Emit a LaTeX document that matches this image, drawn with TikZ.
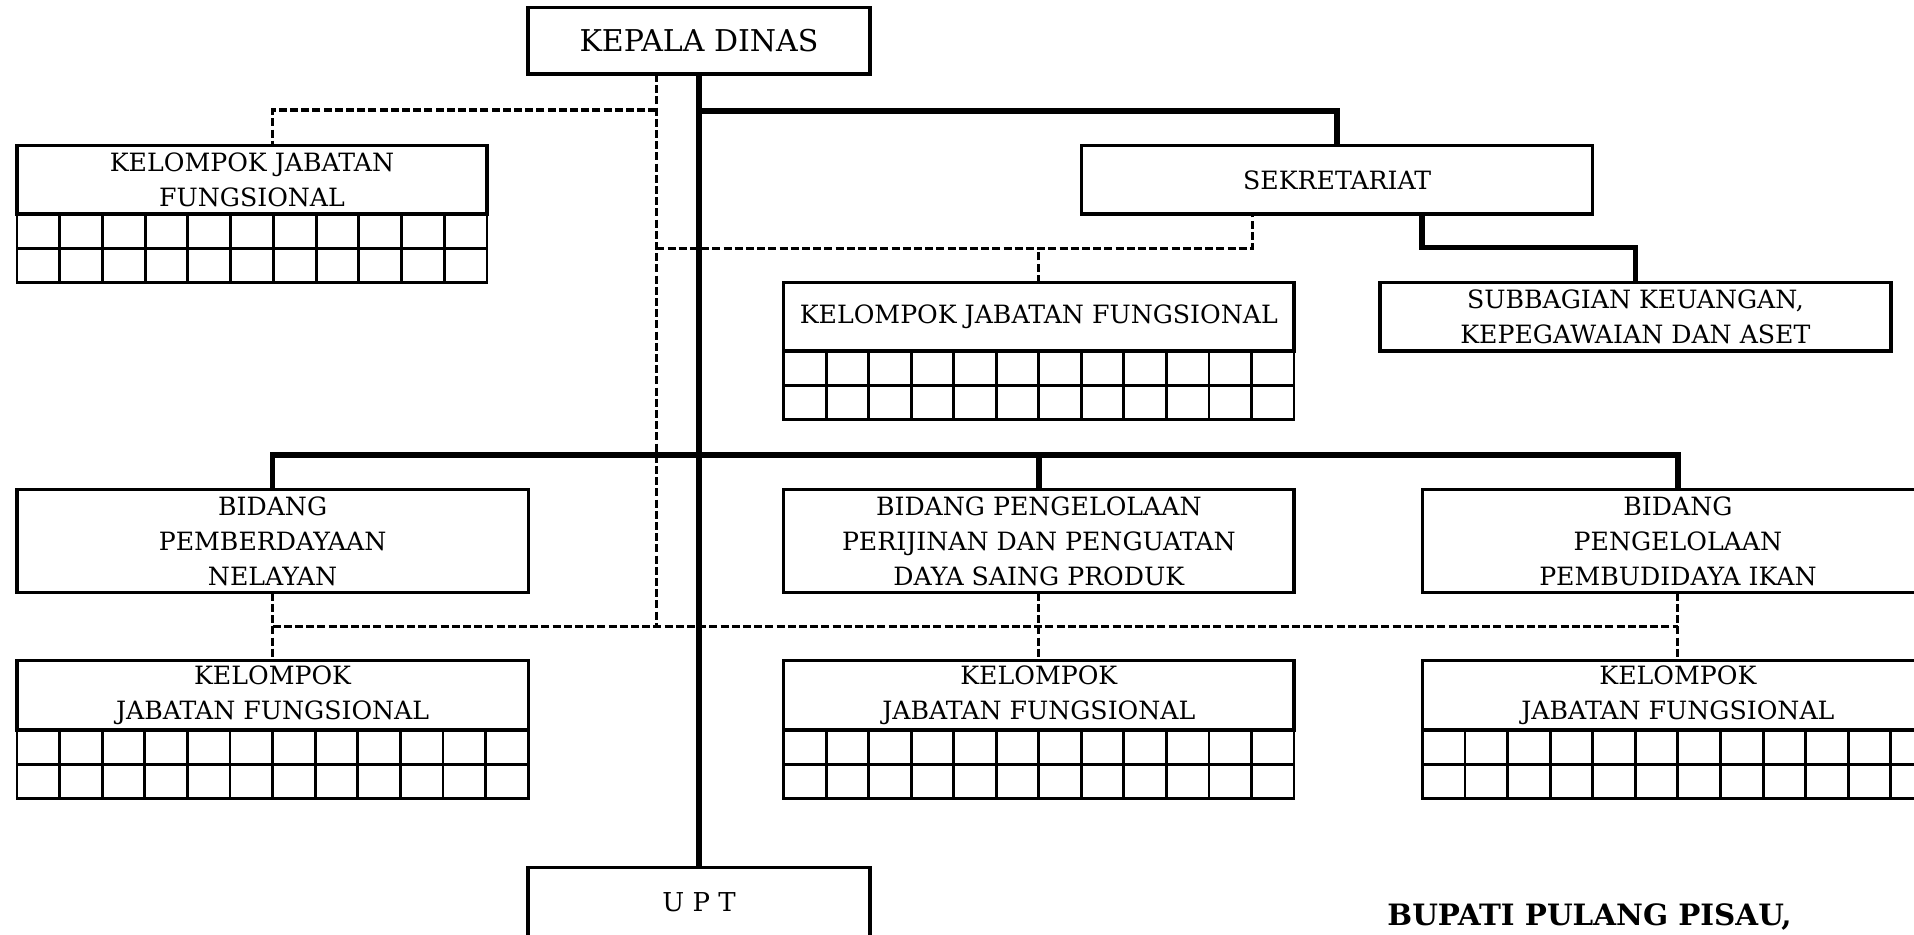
\documentclass[tikz,border=0pt]{standalone}
\usepackage{fontspec}
\setmainfont{DejaVu Serif}
\usetikzlibrary{calc}
\newcommand\boxfont{\fontsize{12.6}{17.5}\selectfont}
\newcommand\kgrid[3]{%
  \draw[gridl] (#1.south west) -- ++(0,68.6) -- ($(#1.south east)+(0,68.6)$) -- (#1.south east);
  \draw[gridl] ($(#1.south west)+(0,34.3)$) -- ($(#1.south east)+(0,34.3)$);
  \foreach \i in {1,...,#2} {\draw[gridl] ($(#1.south west)!\i/#3!(#1.south east)$) -- ++(0,68.6);}%
}
\begin{document}
\begin{tikzpicture}[x=0.5pt,y=-0.5pt,
  box/.style={draw, line width=1.7pt, inner sep=0pt, outer sep=0pt, align=center, font=\boxfont},
  gridl/.style={line width=1.45pt},
  conn/.style={line width=2.8pt},
  dconn/.style={line width=1.55pt, dash pattern=on 4pt off 1.6pt}]
\useasboundingbox (0,0) rectangle (1914,934);
\clip (0,0) rectangle (1914,934);

% nodes
\node[box, minimum width=171pt, minimum height=33.35pt, font=\fontsize{15}{17}\selectfont] (kepala) at (699,40.7) {KEPALA DINAS};
\node[box, minimum width=235pt, minimum height=34.15pt] (kjf0) at (252,179.85) {KELOMPOK JABATAN\\FUNGSIONAL};
\node[box, minimum width=255.5pt, minimum height=34.15pt] (sek) at (1337.2,179.85) {SEKRETARIAT};
\node[box, minimum width=255.2pt, minimum height=34.15pt] (kjf1) at (1038.8,316.85) {KELOMPOK JABATAN FUNGSIONAL};
\node[box, minimum width=255.5pt, minimum height=34.15pt] (sub) at (1635.4,316.85) {SUBBAGIAN KEUANGAN,\\KEPEGAWAIAN DAN ASET};
\node[box, minimum width=255.6pt, minimum height=51.7pt] (bid1) at (272.6,541) {BIDANG\\PEMBERDAYAAN\\NELAYAN};
\node[box, minimum width=255.2pt, minimum height=51.7pt] (bid2) at (1038.8,541) {BIDANG PENGELOLAAN\\PERIJINAN DAN PENGUATAN\\DAYA SAING PRODUK};
\node[box, minimum width=255.5pt, minimum height=51.7pt] (bid3) at (1677.9,541) {BIDANG\\PENGELOLAAN\\PEMBUDIDAYA IKAN};
\node[box, minimum width=255.6pt, minimum height=34.65pt] (kjf2) at (272.6,695.35) {KELOMPOK\\JABATAN FUNGSIONAL};
\node[box, minimum width=255.2pt, minimum height=34.65pt] (kjf3) at (1038.8,695.35) {KELOMPOK\\JABATAN FUNGSIONAL};
\node[box, minimum width=255.5pt, minimum height=34.65pt] (kjf4) at (1677.9,695.35) {KELOMPOK\\JABATAN FUNGSIONAL};
\node[box, minimum width=171pt, minimum height=35pt, font=\fontsize{13}{17}\selectfont] (upt) at (699,902.5) {U P T};
\node[anchor=west, inner sep=0pt, font=\fontsize{14.7}{17}\selectfont\bfseries] (bupati) at (1387,916.5) {BUPATI PULANG PISAU,};

% grids
\kgrid{kjf0}{10}{11}
\kgrid{kjf1}{11}{12}
\kgrid{kjf2}{11}{12}
\kgrid{kjf3}{11}{12}
\kgrid{kjf4}{11}{12}

% helper coordinates
\coordinate (ysek) at (0,111);
\coordinate (ybus) at (0,455);
\coordinate (dx) at (656.3,0);
\coordinate (dbot) at (656.3,628.3);
\coordinate (yd1) at (0,110);
\coordinate (yd2) at (0,248.3);
\coordinate (yd3) at (0,626.7);

% dashed connectors
\draw[dconn] (kepala.south -| dx) -- (dbot);
\draw[dconn] (dx |- yd1) -| ($(kjf0.north)+(20.6,0)$);
\draw[dconn] (dx |- yd2) -| ($(sek.south)+(-84.6,0)$);
\draw[dconn] (kjf1.north) -- (kjf1.north |- yd2);
\draw[dconn] (bid1.south |- yd3) -- (bid3.south |- yd3);
\draw[dconn] (bid1.south) -- (kjf2.north);
\draw[dconn] (bid2.south) -- (kjf3.north);
\draw[dconn] (bid3.south) -- (kjf4.north);

% solid connectors
\draw[conn] (kepala.south) -- (upt.north);
\draw[conn] (kepala.south |- ysek) -| (sek.north);
\draw[conn] ($(sek.south)+(84.8,0)$) -- ++(0,33.5) -| (sub.north);
\draw[conn] (bid1.north) |- (bid3.north |- ybus) -- (bid3.north);
\draw[conn] (bid2.north) -- (bid2.north |- ybus);
\end{tikzpicture}
\end{document}
